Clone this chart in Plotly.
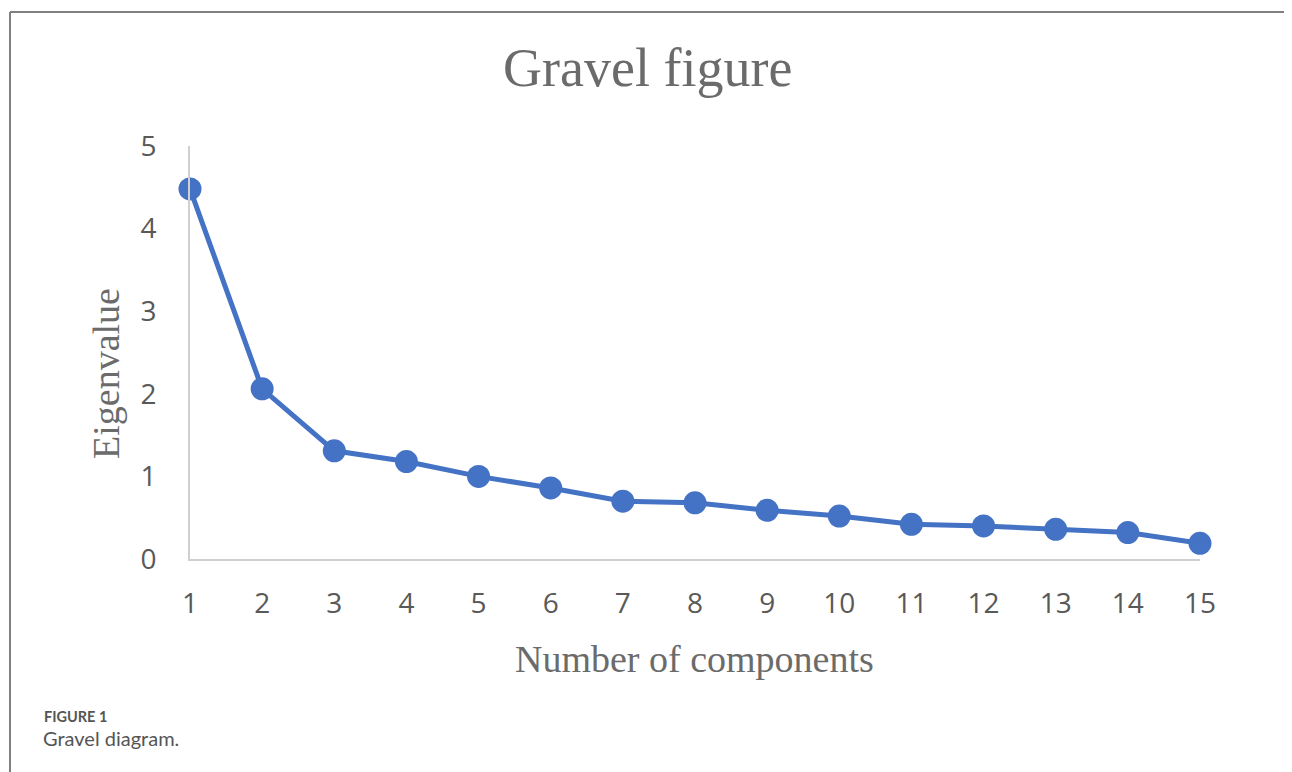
import plotly.graph_objects as go

components = list(range(1, 16))
eigenvalues = [4.48, 2.06, 1.31, 1.18, 1.00, 0.86, 0.70, 0.68, 0.59, 0.52, 0.42, 0.40, 0.36, 0.32, 0.19]
y_ticks = [0, 1, 2, 3, 4, 5]

OFF = 8  # page body margin
W, H = 1292 - OFF, 772 - OFF
L, R, T, B = 190 - OFF, 1200 - OFF, 146 - OFF, 559 - OFF  # plot area in figure pixels


def px(x):
    return (x - OFF - L) / (R - L)


def py(y):
    return (B - (y - OFF)) / (B - T)


fig = go.Figure()
fig.add_trace(go.Scatter(
    x=components, y=eigenvalues, mode="lines+markers",
    line=dict(color="#4472C4", width=5),
    marker=dict(color="#4472C4", size=23),
    cliponaxis=False, showlegend=False,
))

fig.update_layout(
    width=W, height=H,
    margin=dict(l=L, r=W - R, t=T, b=H - B),
    paper_bgcolor="white", plot_bgcolor="white",
    xaxis=dict(
        range=[1, 15], tickmode="array", tickvals=components,
        ticktext=[str(c) for c in components],
        showgrid=False, zeroline=False, showline=True,
        linecolor="#d0d0d0", linewidth=2, ticks="",
        tickfont=dict(family="Open Sans", size=28, color="#595959"),
        ticklabelstandoff=18,
    ),
    yaxis=dict(
        range=[0, 5], tickmode="array", tickvals=y_ticks,
        showgrid=False, zeroline=False, showline=True,
        linecolor="#d0d0d0", linewidth=2, ticks="",
        tickfont=dict(family="Open Sans", size=28, color="#595959"),
        ticklabelstandoff=26,
    ),
    annotations=[
        dict(text="Gravel figure", xref="paper", yref="paper",
             x=px(647), y=py(68), showarrow=False, xanchor="center", yanchor="middle",
             font=dict(family="Liberation Serif", size=54, color="#6b6b6b")),
        dict(text="Number of components", xref="paper", yref="paper",
             x=px(694), y=py(659), showarrow=False, xanchor="center", yanchor="middle",
             font=dict(family="Liberation Serif", size=38, color="#6b6b6b")),
        dict(text="Eigenvalue", xref="paper", yref="paper", textangle=-90,
             x=px(106), y=py(374), showarrow=False, xanchor="center", yanchor="middle",
             font=dict(family="Liberation Serif", size=38, color="#6b6b6b")),
        dict(text="<b>FIGURE 1</b>", xref="paper", yref="paper",
             x=px(42), y=py(716), showarrow=False, xanchor="left", yanchor="middle",
             font=dict(family="Lato", size=14.5, color="#555555")),
        dict(text="Gravel diagram.", xref="paper", yref="paper",
             x=px(41), y=py(738), showarrow=False, xanchor="left", yanchor="middle",
             font=dict(family="Lato", size=20, color="#555555")),
    ],
    shapes=[
        dict(type="line", xref="paper", yref="paper", x0=px(10), x1=px(10), y0=py(12), y1=py(772),
             line=dict(color="#808080", width=2)),
        dict(type="line", xref="paper", yref="paper", x0=px(10), x1=px(1292), y0=py(12), y1=py(12),
             line=dict(color="#808080", width=2)),
    ],
)

fig.write_html("out.html")
